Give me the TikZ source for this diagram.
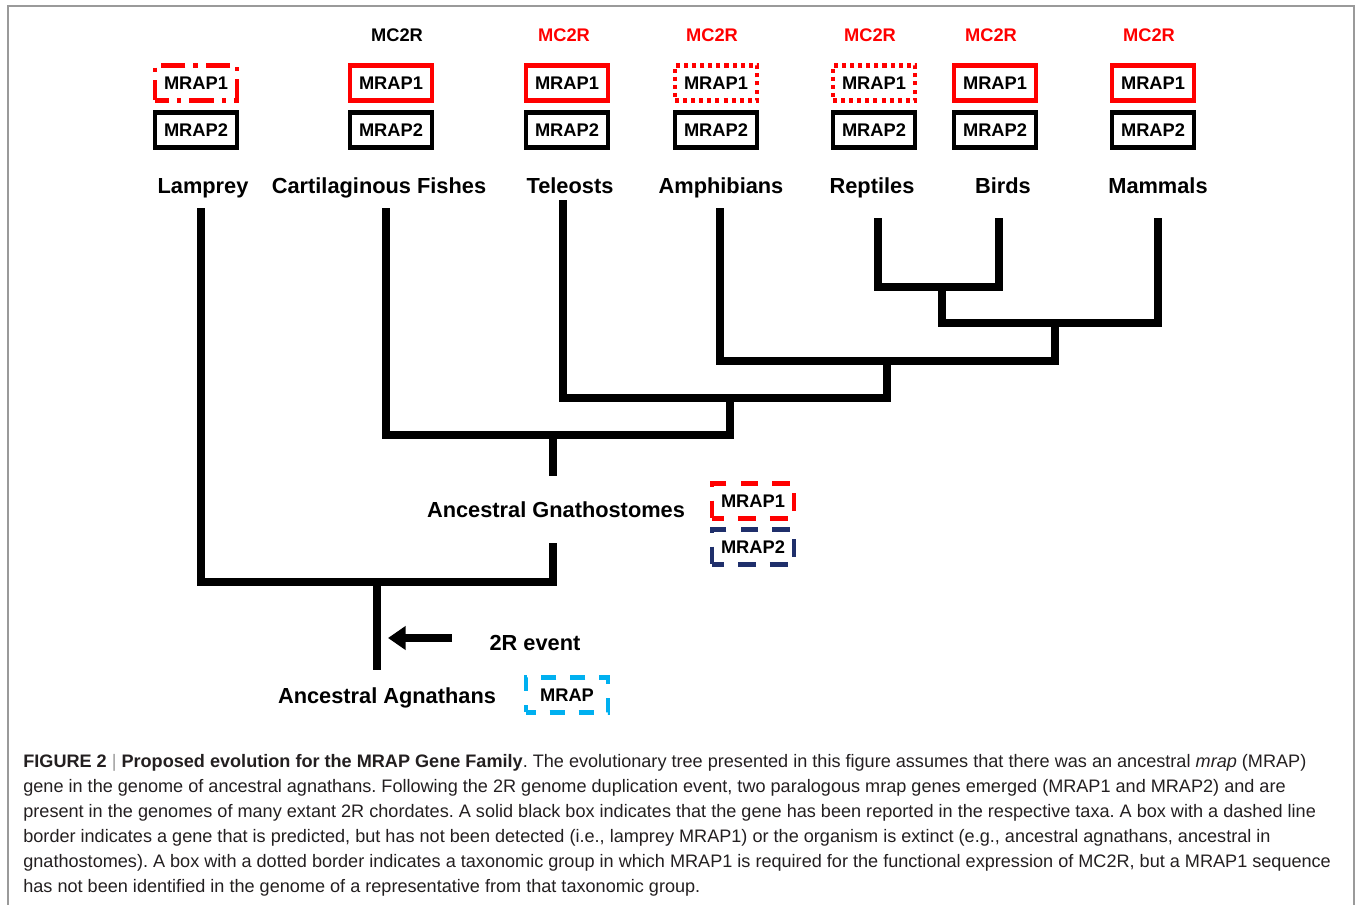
\documentclass[tikz,border=0pt]{standalone}
\usepackage{fontspec}
\setmainfont{Liberation Sans}
\usetikzlibrary{arrows.meta}
\definecolor{mred}{HTML}{FF0000}
\definecolor{mnavy}{HTML}{1F2F6B}
\definecolor{mcyan}{HTML}{00B0F0}
\definecolor{framegray}{HTML}{9A9A9A}
\definecolor{captext}{HTML}{231F20}
\frenchspacing
\begin{document}
\begin{tikzpicture}[x=0.02cm,y=-0.02cm,
  gene/.style={minimum width=1.64cm, minimum height=0.70cm, inner sep=0pt,
    line width=2.3pt, font=\bfseries\fontsize{10.4}{12}\selectfont, text=black},
  solidblack/.style={gene, draw=black},
  solidred/.style={gene, draw=mred},
  dottedred/.style={gene, draw=mred, dash pattern=on 2.3pt off 2.3pt},
  dashdotred/.style={gene, draw=mred, dash pattern=on 14pt off 4.5pt on 2.5pt off 4.5pt, dash phase=6pt},
  dashedred/.style={gene, draw=mred, dash pattern=on 10pt off 8pt, dash phase=3pt},
  dashednavy/.style={gene, draw=mnavy, dash pattern=on 10pt off 8pt, dash phase=3pt},
  dashedcyan/.style={gene, draw=mcyan, dash pattern=on 8.5pt off 8pt, dash phase=3pt},
  receptor/.style={font=\bfseries\fontsize{10.4}{12}\selectfont, anchor=base, inner sep=0pt},
  taxon/.style={font=\bfseries\fontsize{12.4}{14}\selectfont, anchor=base, inner sep=0pt},
  branch/.style={line width=4.5pt, line cap=rect, line join=miter},
  caption/.style={font=\fontsize{10.3}{12}\selectfont, text=captext, anchor=base west, inner sep=0pt}
]
\useasboundingbox (0,0) rectangle (1356,905);
\draw[framegray, line width=1.1pt] (8,960) -- (8,6) -- (1354,6) -- (1354,960);

% receptors
\node[receptor] (mc1) at (397,42) {MC2R};
\node[receptor, text=mred] (mc2) at (564,42) {MC2R};
\node[receptor, text=mred] (mc3) at (712,42) {MC2R};
\node[receptor, text=mred] (mc4) at (870,42) {MC2R};
\node[receptor, text=mred] (mc5) at (991,42) {MC2R};
\node[receptor, text=mred] (mc6) at (1149,42) {MC2R};

% gene boxes
\node[dashdotred] (lamA) at (196,83) {MRAP1};
\node[solidblack] (lamB) at (196,130) {MRAP2};
\node[solidred] (carA) at (391,83) {MRAP1};
\node[solidblack] (carB) at (391,130) {MRAP2};
\node[solidred] (telA) at (567,83) {MRAP1};
\node[solidblack] (telB) at (567,130) {MRAP2};
\node[dottedred] (ampA) at (716,83) {MRAP1};
\node[solidblack] (ampB) at (716,130) {MRAP2};
\node[dottedred] (repA) at (874,83) {MRAP1};
\node[solidblack] (repB) at (874,130) {MRAP2};
\node[solidred] (birA) at (995,83) {MRAP1};
\node[solidblack] (birB) at (995,130) {MRAP2};
\node[solidred] (mamA) at (1153,83) {MRAP1};
\node[solidblack] (mamB) at (1153,130) {MRAP2};

% taxa
\node[taxon] (lamprey) at (203,194) {Lamprey};
\node[taxon] (cart) at (379,194) {Cartilaginous Fishes};
\node[taxon] (tele) at (570,194) {Teleosts};
\node[taxon] (amph) at (721,194) {Amphibians};
\node[taxon] (rept) at (872,194) {Reptiles};
\node[taxon] (bird) at (1003,194) {Birds};
\node[taxon] (mamm) at (1158,194) {Mammals};

\node[taxon] (gnath) at (556,518) {Ancestral Gnathostomes};
\node[dashedred] (gnA) at (753,501) {MRAP1};
\node[dashednavy] (gnB) at (753,547) {MRAP2};

\node[taxon] (event) at (535,650) {2R event};
\node[taxon] (agn) at (387,703) {Ancestral Agnathans};
\node[dashedcyan] (agA) at (567,695) {MRAP};

% tree coordinates
\coordinate (tLam) at (201,212);
\coordinate (tCar) at (386,212);
\coordinate (tTel) at (563,204);
\coordinate (tAmp) at (720,212);
\coordinate (tRep) at (878,222);
\coordinate (tBir) at (999,222);
\coordinate (tMam) at (1158,222);
\coordinate (nRB) at (942,287);
\coordinate (nAm) at (1055,323);
\coordinate (nTe) at (887,361);
\coordinate (nCa) at (730,398);
\coordinate (nGnTop) at (553,435);
\coordinate (nGnStub) at (553,472);
\coordinate (nGnLow) at (553,547);
\coordinate (nRoot) at (377,582);
\coordinate (nRootEnd) at (377,666);
\coordinate (arrTail) at (452,638);
\coordinate (arrTip) at (388,638);

\draw[branch] (tRep) |- (nRB) -| (tBir);
\draw[branch] (nRB) |- (nAm) -| (tMam);
\draw[branch] (tAmp) |- (nTe) -| (nAm);
\draw[branch] (tTel) |- (nCa) -| (nTe);
\draw[branch] (tCar) |- (nGnTop) -| (nCa);
\draw[branch] (nGnTop) -- (nGnStub);
\draw[branch] (tLam) |- (nRoot) -| (nGnLow);
\draw[branch] (nRoot) -- (nRootEnd);
\draw[line width=4pt, -{Triangle[length=10pt,width=13pt]}] (arrTail) -- (arrTip);

% caption
\node[caption] (cap1) at (23,767) {\textbf{FIGURE 2} \textcolor{framegray}{|} \textbf{Proposed evolution for the MRAP Gene Family}. The evolutionary tree presented in this figure assumes that there was an ancestral \textit{mrap} (MRAP)};
\node[caption] (cap2) at (23,792) {gene in the genome of ancestral agnathans. Following the 2R genome duplication event, two paralogous mrap genes emerged (MRAP1 and MRAP2) and are};
\node[caption] (cap3) at (23,817) {present in the genomes of many extant 2R chordates. A solid black box indicates that the gene has been reported in the respective taxa. A box with a dashed line};
\node[caption] (cap4) at (23,842) {border indicates a gene that is predicted, but has not been detected (i.e., lamprey MRAP1) or the organism is extinct (e.g., ancestral agnathans, ancestral in};
\node[caption] (cap5) at (23,867) {gnathostomes). A box with a dotted border indicates a taxonomic group in which MRAP1 is required for the functional expression of MC2R, but a MRAP1 sequence};
\node[caption] (cap6) at (23,892) {has not been identified in the genome of a representative from that taxonomic group.};
\end{tikzpicture}
\end{document}
